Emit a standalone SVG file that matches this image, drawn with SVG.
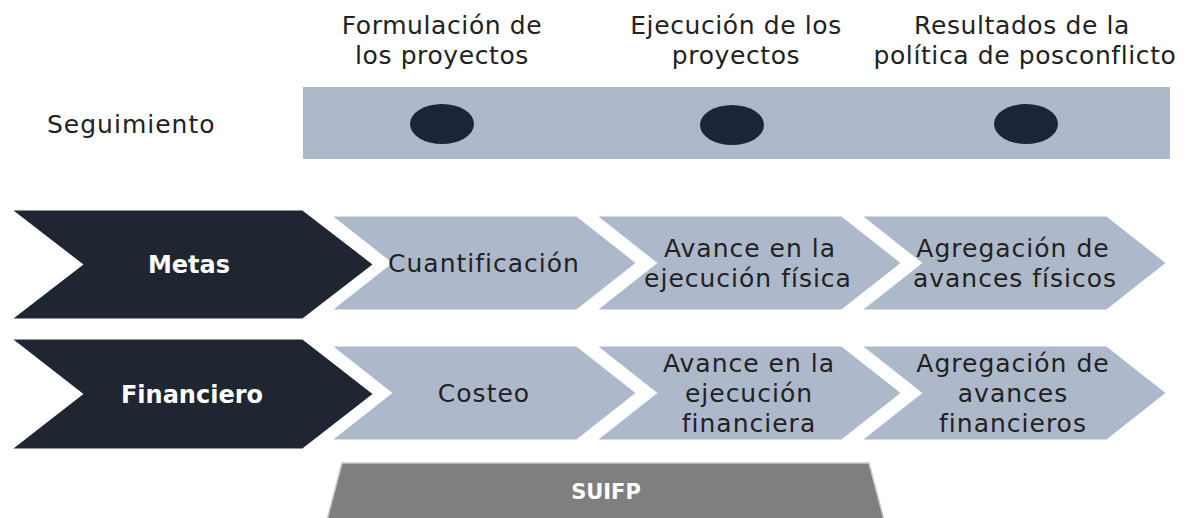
<svg xmlns="http://www.w3.org/2000/svg" width="1193" height="518" viewBox="0 0 1193 518">
<style>
.t{font-family:"DejaVu Sans","Liberation Sans",sans-serif;font-size:25px;fill:#222;letter-spacing:1px;text-anchor:middle}
.h{font-family:"DejaVu Sans","Liberation Sans",sans-serif;font-size:25px;fill:#222;letter-spacing:0.6px;text-anchor:middle}
.b{font-family:"DejaVu Sans","Liberation Sans",sans-serif;font-size:24px;font-weight:bold;fill:#fff;text-anchor:middle}
.dark{fill:#1f2531;stroke:#fff;stroke-width:3;stroke-linejoin:miter}
.light{fill:#adb9ca;stroke:#fff;stroke-width:3}
.dot{fill:#1c2538}
</style>
<rect width="1193" height="518" fill="#fff"/>
<g id="headers">
<text class="h" x="442" y="34">Formulación de<tspan x="442" y="64">los proyectos</tspan></text>
<text class="h" x="736" y="34">Ejecución de los<tspan x="736" y="64">proyectos</tspan></text>
<text class="h" x="1022" y="34">Resultados de la<tspan x="1025" y="64">política de posconflicto</tspan></text>
</g>
<g id="seguimiento">
<text class="t" x="47" y="133" style="text-anchor:start">Seguimiento</text>
<rect x="303" y="87" width="867" height="72" fill="#adb8cb"/>
<ellipse class="dot" cx="442" cy="124" rx="32" ry="20"/>
<ellipse class="dot" cx="732" cy="125" rx="32" ry="20"/>
<ellipse class="dot" cx="1026" cy="124" rx="32" ry="20"/>
</g>
<g id="connectors"></g>
<g id="metas-row">
<g id="metas-c1"><polygon class="light" points="329,215 577,215 638,263 577,311 329,311 390,263"/>
<text class="t" x="484" y="272">Cuantificación</text></g>
<g id="metas-c2"><polygon class="light" points="594,215 842,215 903,263 842,311 594,311 655,263"/>
<text class="t" x="750" y="257">Avance en la<tspan x="748" y="287">ejecución física</tspan></text></g>
<g id="metas-c3"><polygon class="light" points="859,215 1107,215 1168,263 1107,311 859,311 920,263"/>
<text class="t" x="1013" y="257">Agregación de<tspan x="1015" y="287">avances físicos</tspan></text></g>
<g id="metas"><polygon class="dark" points="9,209 303,209 375,264.5 303,320 9,320 81,264.5"/>
<text class="b" x="189" y="273">Metas</text></g>
</g>
<g id="financiero-row">
<g id="fin-c1"><polygon class="light" points="329,345 577,345 638,393 577,441 329,441 390,393"/>
<text class="t" x="484" y="402">Costeo</text></g>
<g id="fin-c2"><polygon class="light" points="594,345 842,345 903,393 842,441 594,441 655,393"/>
<text class="t" x="749" y="372">Avance en la<tspan x="749" y="402">ejecución</tspan><tspan x="749" y="432">financiera</tspan></text></g>
<g id="fin-c3"><polygon class="light" points="859,345 1107,345 1168,393 1107,441 859,441 920,393"/>
<text class="t" x="1013" y="372">Agregación de<tspan x="1013" y="402">avances</tspan><tspan x="1013" y="432">financieros</tspan></text></g>
<g id="financiero"><polygon class="dark" points="9,338 303,338 375,394 303,450 9,450 81,394"/>
<text class="b" x="192" y="403">Financiero</text></g>
</g>
<g id="suifp">
<polygon points="342,463 869,463 884,520 327,520" fill="#7f7f7f" stroke="#c8c8c8" stroke-width="1.5"/>
<text class="b" x="606" y="499" style="font-size:21px">SUIFP</text>
</g>
</svg>
